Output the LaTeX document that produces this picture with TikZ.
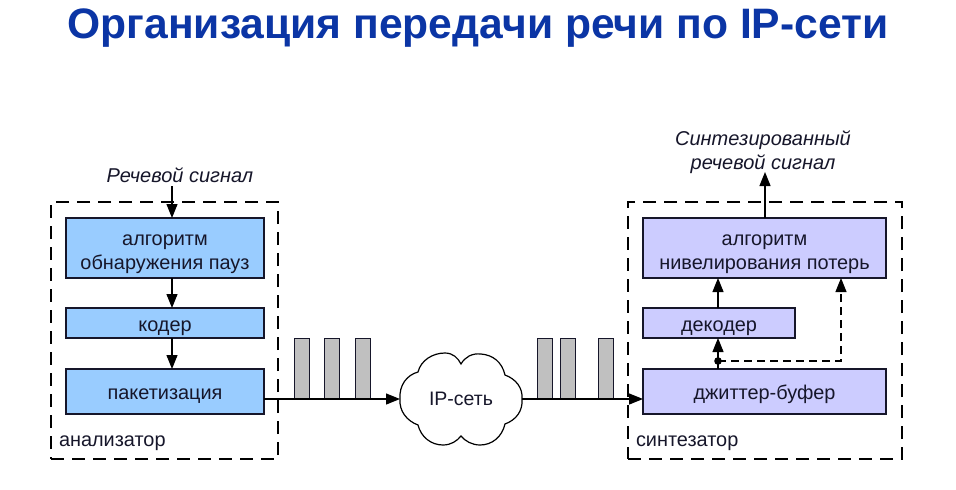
\documentclass[tikz,border=0pt]{standalone}
\usepackage{fontspec}
\setmainfont{Liberation Sans}
\usetikzlibrary{arrows.meta}
\definecolor{titleblue}{HTML}{0B35A5}
\definecolor{bluebox}{HTML}{99CCFF}
\definecolor{lilacbox}{HTML}{CCCCFF}
\definecolor{pktgrey}{HTML}{C0C0C0}
\definecolor{inktxt}{HTML}{16162A}
\newcommand{\twolines}[2]{\begin{tabular}{@{}c@{}}#1\\#2\end{tabular}}
\tikzset{
  x=1pt,y=-1pt,
  every node/.style={inner sep=0pt,outer sep=0pt,text=inktxt},
  boxbase/.style={draw=inktxt,line width=1.2pt,anchor=north west,font=\fontsize{19.9}{24}\selectfont},
  oneline/.style={text height=18pt,text depth=2pt},
  twoline/.style={text height=21pt,text depth=2pt},
  blueblock/.style={boxbase,fill=bluebox},
  lilacblock/.style={boxbase,fill=lilacbox},
  region/.style={draw=black,line width=2pt,dash pattern=on 13pt off 8pt,anchor=north west},
  packet/.style={draw=inktxt,line width=1pt,fill=pktgrey,anchor=south west,minimum width=15pt,minimum height=61pt},
  flow/.style={draw=black,line width=1.2pt,-{Triangle[length=14pt,width=11pt]}},
  dashflow/.style={flow,line width=1.1pt,dash pattern=on 8pt off 5pt},
  caption/.style={font=\fontsize{19.9}{24}\selectfont},
  italcap/.style={font=\fontsize{20}{24.5}\selectfont\itshape}
}
\begin{document}
\begin{tikzpicture}
\useasboundingbox (0,0) rectangle (956,490);
\fill[white] (0,0) rectangle (956,490);
\node[text=titleblue,font=\fontsize{42.6}{48}\selectfont\bfseries] (title) at (478,28) {Организация передачи речи по IP-сети};
% regions
\node[region,minimum width=227pt,minimum height=257pt] (analyzer) at (51,202) {};
\node[region,minimum width=274pt,minimum height=257pt] (synth) at (628,202) {};
\node[caption,anchor=west] (anlabel) at (59,443) {анализатор};
\node[caption,anchor=west] (snlabel) at (636,443) {синтезатор};
% left blocks
\node[blueblock,twoline,minimum width=198pt,minimum height=60pt] (pause) at (66,218) {\twolines{алгоритм}{обнаружения пауз}};
\node[blueblock,oneline,minimum width=198pt,minimum height=30pt] (coder) at (66,308) {кодер};
\node[blueblock,oneline,minimum width=198pt,minimum height=45pt] (pack) at (66,369) {пакетизация};
% right blocks
\node[lilacblock,twoline,minimum width=243pt,minimum height=60pt] (conceal) at (643,218) {\twolines{алгоритм}{нивелирования потерь}};
\node[lilacblock,oneline,minimum width=152pt,minimum height=30pt] (decoder) at (643,308) {декодер};
\node[lilacblock,oneline,minimum width=243pt,minimum height=45pt] (jitter) at (643,369) {джиттер-буфер};
% packets
\node[packet] (p1) at (294,399) {};
\node[packet] (p2) at (324.5,399) {};
\node[packet] (p3) at (355,399) {};
\node[packet] (p4) at (537,399) {};
\node[packet] (p5) at (560,399) {};
\node[packet] (p6) at (598,399) {};
% cloud
\draw[line width=1.2pt,draw=black,fill=white]
  (400,399) .. controls (399,385) and (407,375) .. (418,372)
  .. controls (421,360) and (433,353) .. (445,353)
  .. controls (453,353) and (458,358) .. (461,364)
  .. controls (465,357) and (472,353) .. (481,354)
  .. controls (493,355) and (502,362) .. (505,375)
  .. controls (516,379) and (523,388) .. (522,399)
  .. controls (523,411) and (516,420) .. (505,424)
  .. controls (502,437) and (492,445) .. (480,445)
  .. controls (472,445) and (465,441) .. (461,436)
  .. controls (457,441) and (451,445) .. (443,445)
  .. controls (431,445) and (421,437) .. (418,425)
  .. controls (407,421) and (399,411) .. (400,399) -- cycle;
\node[minimum width=122pt,minimum height=92pt,font=\fontsize{19.5}{24}\selectfont] (cloud) at (461,399) {IP-сеть};
% captions
\node[italcap] (insig) at (180,175) {Речевой сигнал};
\node[italcap] (outsig) at (763,152.5) {\twolines{Синтезированный}{речевой сигнал}};
\coordinate (insrc) at (172,186);
\coordinate (outend) at (765,172);
\coordinate (tap) at (718,361);
\coordinate (corner) at (841,361);
\coordinate (leftx) at (172,0);
% connectors
\draw[flow] (insrc) -- (pause.north -| insrc);
\draw[flow] (pause.south -| leftx) -- (coder.north -| leftx);
\draw[flow] (coder.south -| leftx) -- (pack.north -| leftx);
\draw[flow] (pack.east |- cloud.west) -- (cloud.west);
\draw[flow] (cloud.east) -- (jitter.west |- cloud.east);
\draw[flow] (jitter.north -| tap) -- (decoder.south -| tap);
\draw[flow] (decoder.north -| tap) -- (conceal.south -| tap);
\draw[flow] (conceal.north -| outend) -- (outend);
\draw[dashflow] (tap) -- (corner) -- (conceal.south -| corner);
\fill[black] (tap) circle (3.8pt);
\end{tikzpicture}
\end{document}
